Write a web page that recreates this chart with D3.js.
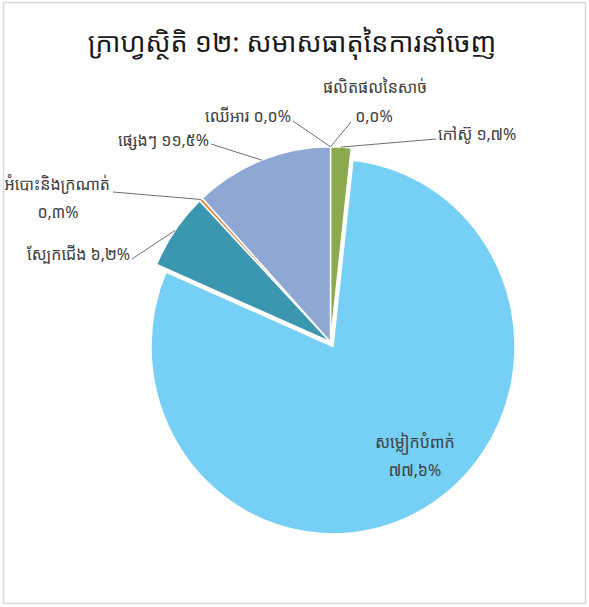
<!DOCTYPE html>
<html>
<head>
<meta charset="utf-8">
<script src="https://cdn.jsdelivr.net/npm/d3@7"></script>
<style>
  html, body { margin: 0; padding: 0; background: #fff; }
  svg { display: block; }
  text { font-family: "Khmer OS", "Noto Sans Khmer", "Noto Serif Khmer", "Khmer OS System", sans-serif; }
</style>
</head>
<body>
<svg id="chart" width="589" height="607"></svg>
<script>
// ---- data ----
const title = "ក្រាហ្វស្ថិតិ ១២: សមាសធាតុនៃការនាំចេញ";
const categories = ["ផលិតផលនៃសាច់", "កៅស៊ូ", "សម្លៀកបំពាក់", "ស្បែកជើង", "អំបោះនិងក្រណាត់", "ផ្សេងៗ", "ឈើអារ"];
const values = [0.0, 1.7, 77.6, 6.2, 0.3, 11.5, 0.0];
const valueLabels = ["០,០%", "១,៧%", "៧៧,៦%", "៦,២%", "០,៣%", "១១,៥%", "០,០%"];
const colors = ["#C0504D", "#8BAA4E", "#76CFF4", "#3B96B0", "#E0883A", "#8FA7D3", "#A5A5A5"];
const explodedCategory = "សម្លៀកបំពាក់";

// ---- layout ----
const W = 589, H = 607;
const cx = 330.5, cy = 342, sy = 1.03;
const rSmall = 189.5, rBig = 182, explode = 5;

const labelLayout = {
  "ផលិតផលនៃសាច់": { lines: [{k: "name", x: 375, y: 93, a: "middle"}, {k: "value", x: 374, y: 122, a: "middle"}], from: [351, 122] },
  "កៅស៊ូ": { lines: [{k: "both", x: 438, y: 140, a: "start"}], from: [436, 139] },
  "សម្លៀកបំពាក់": { lines: [{k: "name", x: 415, y: 448, a: "middle"}, {k: "value", x: 415, y: 476, a: "middle"}], from: null },
  "ស្បែកជើង": { lines: [{k: "both", x: 130, y: 260, a: "end"}], from: [132, 259] },
  "អំបោះនិងក្រណាត់": { lines: [{k: "name", x: 110, y: 190, a: "end"}, {k: "value", x: 58, y: 218, a: "middle"}], from: [113, 192] },
  "ផ្សេងៗ": { lines: [{k: "both", x: 209, y: 146, a: "end"}], from: [211, 144] },
  "ឈើអារ": { lines: [{k: "both", x: 291, y: 122, a: "end"}], from: [293, 121] }
};

const svg = d3.select("#chart");
svg.append("rect").attr("x", 0).attr("y", 0).attr("width", W).attr("height", H).attr("fill", "#fff");
svg.append("rect").attr("x", 3.5).attr("y", 2.5).attr("width", 582).attr("height", 601)
  .attr("fill", "none").attr("stroke", "#d9d9d9").attr("stroke-width", 1.5);

svg.append("text").attr("x", 292).attr("y", 52).attr("text-anchor", "middle")
  .attr("font-size", 27).attr("fill", "#1a1a1a").text(title);

const data = categories.map((c, i) => ({ cat: c, value: values[i], label: valueLabels[i], color: colors[i] }));
const pie = d3.pie().sort(null).value(d => d.value);
const arcs = pie(data);

const color = d3.scaleOrdinal().domain(categories).range(colors);

const g = svg.append("g").attr("transform", `translate(${cx},${cy}) scale(1,${sy})`);

function offsetOf(a) {
  if (a.data.cat !== explodedCategory) return [0, 0];
  const m = (a.startAngle + a.endAngle) / 2;
  return [Math.sin(m) * explode, -Math.cos(m) * explode];
}

g.selectAll("path.slice").data(arcs.filter(a => a.value > 0)).enter().append("path")
  .attr("class", "slice")
  .attr("transform", a => { const o = offsetOf(a); return `translate(${o[0]},${o[1]})`; })
  .attr("d", a => d3.arc().innerRadius(0).outerRadius(a.data.cat === explodedCategory ? rBig : rSmall)(a))
  .attr("fill", a => color(a.data.cat))
  .attr("stroke", "#fff").attr("stroke-width", 1.5).attr("stroke-linejoin", "round");

// labels and leader lines
const labelG = svg.append("g");
arcs.forEach(a => {
  const L = labelLayout[a.data.cat];
  if (!L) return;
  if (L.from) {
    const r = rSmall;
    const c = d3.arc().innerRadius(r).outerRadius(r).centroid(a);
    const o = offsetOf(a);
    const px = cx + c[0] + o[0], py = cy + (c[1] + o[1]) * sy;
    labelG.append("line").attr("x1", L.from[0]).attr("y1", L.from[1]).attr("x2", px).attr("y2", py)
      .attr("stroke", "#6f6f6f").attr("stroke-width", 1);
  }
  L.lines.forEach(l => {
    const t = l.k === "name" ? a.data.cat : l.k === "value" ? a.data.label : a.data.cat + " " + a.data.label;
    labelG.append("text").attr("x", l.x).attr("y", l.y).attr("text-anchor", l.a)
      .attr("font-size", 16).attr("fill", "#404040").text(t);
  });
});
</script>
</body>
</html>
